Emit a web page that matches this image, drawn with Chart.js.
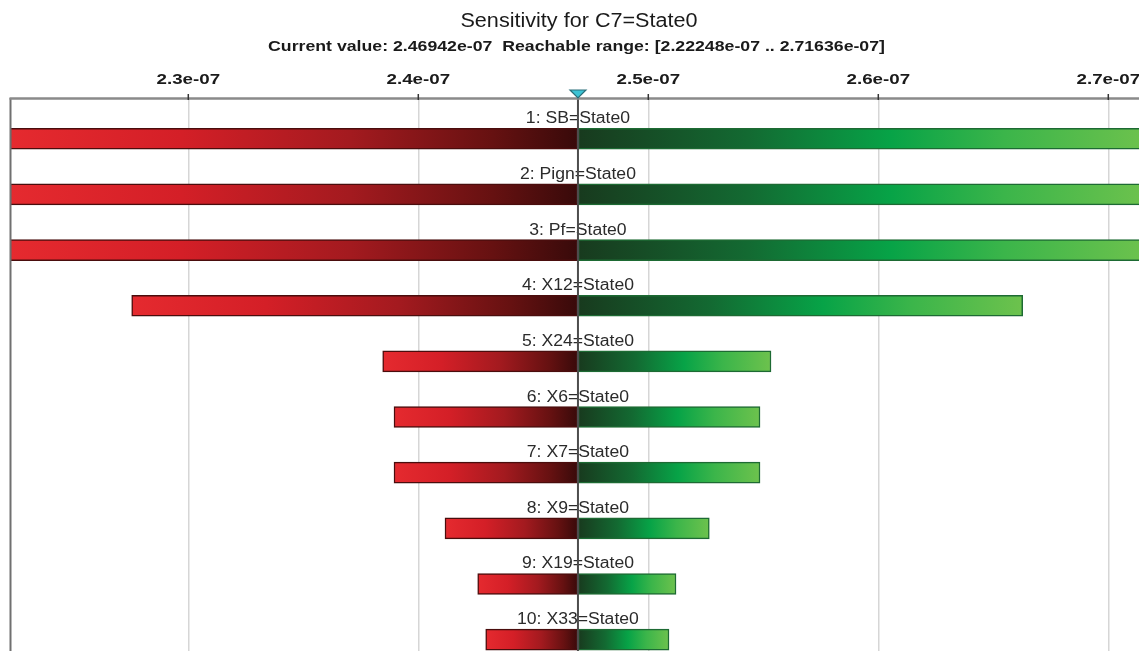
<!DOCTYPE html>
<html>
<head>
<meta charset="utf-8">
<script src="https://cdn.jsdelivr.net/npm/chart.js@4/dist/chart.umd.min.js"></script>
<style>
  html, body { margin: 0; padding: 0; background: #ffffff; }
  #wrap { width: 1139px; height: 651px; position: relative; }
</style>
</head>
<body>
<div id="wrap"><canvas id="c" width="1139" height="651"></canvas></div>
<script>
// ---- Data ----
const titleText = 'Sensitivity for C7=State0';
const subtitleText = 'Current value: 2.46942e-07  Reachable range: [2.22248e-07 .. 2.71636e-07]';
const categories = ['1: SB=State0', '2: Pign=State0', '3: Pf=State0', '4: X12=State0', '5: X24=State0',
                    '6: X6=State0', '7: X7=State0', '8: X9=State0', '9: X19=State0', '10: X33=State0'];
const currentValue = 2.46942e-07;
const rangeMin = 2.22248e-07;
const rangeMax = 2.71636e-07;
const lowValues  = [2.22248e-07, 2.22248e-07, 2.22248e-07, 2.27539e-07, 2.38452e-07,
                    2.38944e-07, 2.38944e-07, 2.41161e-07, 2.42583e-07, 2.42931e-07];
const highValues = [2.71636e-07, 2.71636e-07, 2.71636e-07, 2.66278e-07, 2.55335e-07,
                    2.54857e-07, 2.54857e-07, 2.52652e-07, 2.51205e-07, 2.50900e-07];
const tickValues = [2.3e-07, 2.4e-07, 2.5e-07, 2.6e-07, 2.7e-07];
const tickLabels = ['2.3e-07', '2.4e-07', '2.5e-07', '2.6e-07', '2.7e-07'];
const xAxisMax = 2.71335e-07; // visible right edge (the picture is cut there)

// ---- Build datasets ----
const rows = categories.map((c, i) => i + 1);
const lowData = rows.map((r, i) => ({ x: [lowValues[i], currentValue], y: r }));
const highData = rows.map((r, i) => ({ x: [currentValue, highValues[i]], y: r }));

function gradFor(side) {
  return function (ctx) {
    const chart = ctx.chart;
    const xs = chart.scales && chart.scales.x;
    if (ctx.type !== 'data' || !xs || !ctx.raw) return side === 'low' ? '#c01e26' : '#10a045';
    const a = xs.getPixelForValue(ctx.raw.x[0]);
    const b = xs.getPixelForValue(ctx.raw.x[1]);
    if (!isFinite(a) || !isFinite(b) || a === b) return side === 'low' ? '#c01e26' : '#10a045';
    const g = chart.ctx.createLinearGradient(a, 0, b, 0);
    if (side === 'low') {
      g.addColorStop(0, '#e52a2f');
      g.addColorStop(0.3, '#d41f27');
      g.addColorStop(0.6, '#a31a1f');
      g.addColorStop(0.85, '#661111');
      g.addColorStop(1, '#380a0a');
    } else {
      g.addColorStop(0, '#183a1e');
      g.addColorStop(0.3, '#136a32');
      g.addColorStop(0.55, '#07a347');
      g.addColorStop(0.75, '#3bb54a');
      g.addColorStop(1, '#6dc24d');
    }
    return g;
  };
}

function stretchText(ctx, text, x, y, font, sx, color) {
  ctx.save();
  ctx.font = font;
  ctx.fillStyle = color;
  ctx.textAlign = 'center';
  ctx.textBaseline = 'alphabetic';
  ctx.translate(x, y);
  ctx.scale(sx, 1);
  ctx.fillText(text, 0, 0);
  ctx.restore();
}

const overlay = {
  id: 'overlay',
  afterDatasetsDraw(chart) {
    const ctx = chart.ctx;
    const xs = chart.scales.x, ys = chart.scales.y;
    const area = chart.chartArea;
    const cx = xs.getPixelForValue(currentValue);

    // row labels above each bar
    categories.forEach((lab, i) => {
      const yc = ys.getPixelForValue(i + 1);
      stretchText(ctx, lab, cx, yc - 15.5, '16px "Liberation Sans", Arial, sans-serif', 1.1, '#2b2b2b');
    });

    // centre line
    ctx.save();
    ctx.strokeStyle = '#4d4d4d';
    ctx.lineWidth = 2;
    ctx.beginPath();
    ctx.moveTo(cx, area.top - 6);
    ctx.lineTo(cx, chart.height);
    ctx.stroke();

    // left border
    ctx.strokeStyle = '#707070';
    ctx.lineWidth = 2;
    ctx.beginPath();
    ctx.moveTo(area.left + 0.5, area.top - 1);
    ctx.lineTo(area.left + 0.5, chart.height);
    ctx.stroke();

    // top axis line
    ctx.strokeStyle = '#8a8a8a';
    ctx.lineWidth = 2.5;
    ctx.beginPath();
    ctx.moveTo(area.left - 0.5, area.top - 0.5);
    ctx.lineTo(chart.width, area.top - 0.5);
    ctx.stroke();

    // tick marks
    ctx.strokeStyle = '#333333';
    ctx.lineWidth = 1.5;
    tickValues.forEach(v => {
      const x = xs.getPixelForValue(v);
      ctx.beginPath();
      ctx.moveTo(x, area.top - 5);
      ctx.lineTo(x, area.top + 1);
      ctx.stroke();
    });

    // current value marker (triangle)
    ctx.fillStyle = '#3cc3d4';
    ctx.strokeStyle = '#2a6f7a';
    ctx.lineWidth = 1.2;
    ctx.beginPath();
    ctx.moveTo(cx - 8, area.top - 9);
    ctx.lineTo(cx + 8, area.top - 9);
    ctx.lineTo(cx, area.top - 1);
    ctx.closePath();
    ctx.fill();
    ctx.stroke();
    ctx.restore();

    // tick labels
    tickValues.forEach((v, i) => {
      const x = xs.getPixelForValue(v);
      stretchText(ctx, tickLabels[i], x, 84, 'bold 15px "Liberation Sans", Arial, sans-serif', 1.25, '#1a1a1a');
    });

    // title + subtitle
    stretchText(ctx, titleText, 579, 27, '20px "Liberation Sans", Arial, sans-serif', 1.08, '#1a1a1a');
    stretchText(ctx, subtitleText, 576.5, 51, 'bold 15px "Liberation Sans", Arial, sans-serif', 1.18, '#1a1a1a');
  }
};

new Chart(document.getElementById('c'), {
  type: 'bar',
  data: {
    datasets: [
      {
        label: 'low',
        data: lowData,
        grouped: false,
        barThickness: 21,
        backgroundColor: gradFor('low'),
        borderColor: '#4a0d0d',
        borderWidth: 1.5,
        borderSkipped: false
      },
      {
        label: 'high',
        data: highData,
        grouped: false,
        barThickness: 21,
        backgroundColor: gradFor('high'),
        borderColor: '#1d6a33',
        borderWidth: 1.5,
        borderSkipped: false
      }
    ]
  },
  options: {
    indexAxis: 'y',
    responsive: false,
    animation: false,
    layout: { padding: { top: 99, left: 10, right: 0, bottom: 0 } },
    plugins: { legend: { display: false }, tooltip: { enabled: false }, title: { display: false } },
    scales: {
      x: {
        type: 'linear',
        position: 'top',
        min: rangeMin,
        max: xAxisMax,
        afterBuildTicks: (s) => { s.ticks = tickValues.map(v => ({ value: v })); },
        afterFit: (s) => { s.height = 0; },
        ticks: { display: false },
        border: { display: false },
        grid: { color: '#d6d6d6', lineWidth: 1.5, drawTicks: false }
      },
      y: {
        type: 'linear',
        reverse: true,
        offset: false,
        min: 0.285,
        max: 10.204,
        display: false
      }
    }
  },
  plugins: [overlay]
});
</script>
</body>
</html>
